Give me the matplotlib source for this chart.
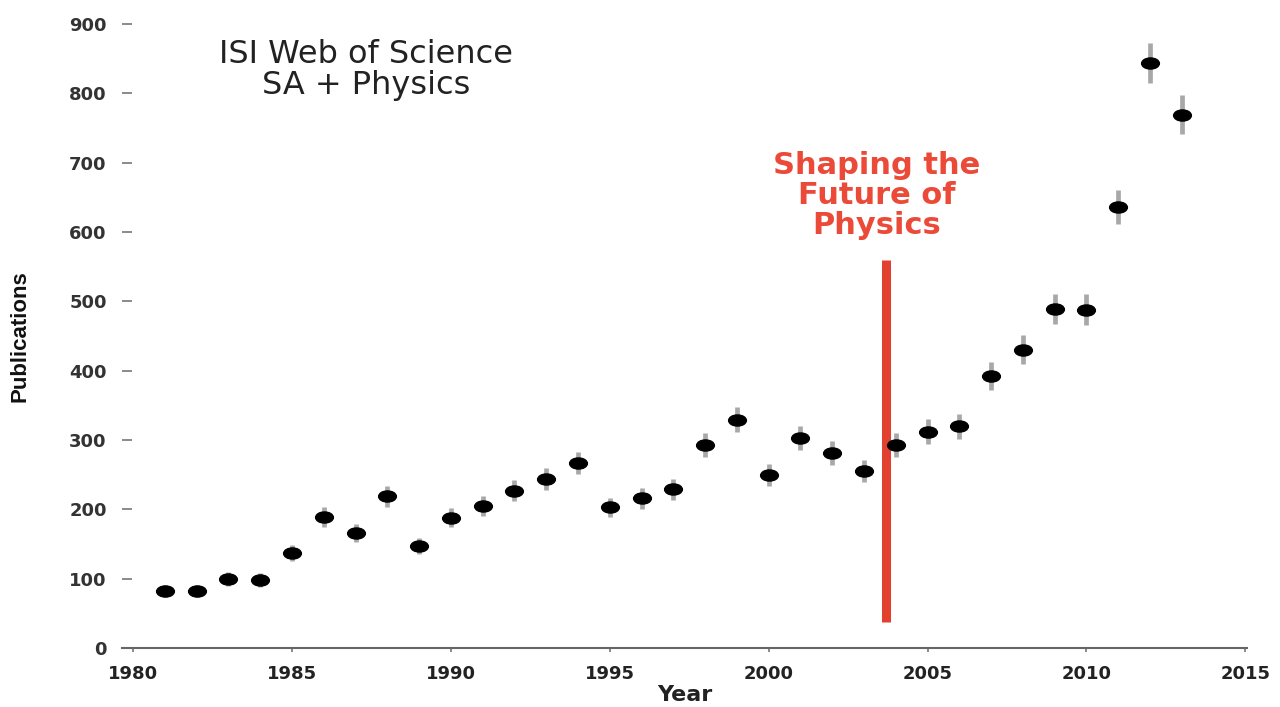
import matplotlib
matplotlib.use('Agg')
import matplotlib.pyplot as plt
from matplotlib.markers import MarkerStyle
from matplotlib.transforms import Affine2D

years = list(range(1981, 2014))
pubs = [82, 82, 100, 98, 137, 189, 166, 219, 147, 188,
        205, 227, 244, 267, 203, 216, 229, 293, 329, 250,
        303, 281, 255, 293, 312, 320, 392, 430, 489, 488,
        636, 844, 769]
errs = [9, 9, 10, 10, 12, 14, 13, 15, 12, 14,
        14, 15, 16, 16, 14, 15, 15, 17, 18, 16,
        17, 17, 16, 17, 18, 18, 20, 21, 22, 22,
        25, 29, 28]

event_year = 2003.7
event_lo, event_hi = 37, 560

fig = plt.figure(figsize=(12.8, 7.07), dpi=100)
ax = fig.add_axes([0.0953, 0.0835, 0.8789, 0.8825])

# grey error bars, black flattened dots
ax.errorbar(years, pubs, yerr=errs, fmt='none', ecolor='#a8a8a8',
            elinewidth=3.4, capsize=0, zorder=2)
dot = MarkerStyle('o', transform=Affine2D().scale(1.6, 1.0))
ax.plot(years, pubs, linestyle='none', marker=dot, markersize=8,
        color='black', zorder=3)

ax.plot([event_year, event_year], [event_lo, event_hi], color='#e2412f',
        linewidth=6.5, solid_capstyle='butt', zorder=1)
ax.text(2003.4, 653, 'Shaping the\nFuture of\nPhysics', color='#ec4a38',
        fontsize=22, fontweight='bold', ha='center', va='center',
        linespacing=1.05, family='DejaVu Sans')

ax.text(0.217, 0.926, 'ISI Web of Science\nSA + Physics', transform=ax.transAxes,
        fontsize=23, color='#222222', ha='center', va='center',
        linespacing=1.0, family='DejaVu Sans')

ax.set_xlim(1979.65, 2015.05)
ax.set_ylim(0, 900)
ax.set_xticks(range(1980, 2016, 5))
ax.set_yticks(range(0, 901, 100))

for s in ['top', 'right', 'left']:
    ax.spines[s].set_visible(False)
ax.spines['bottom'].set_color('#666666')
ax.spines['bottom'].set_linewidth(1.5)

ax.tick_params(axis='y', direction='in', length=7, width=1.2, color='#777777',
               pad=11, labelsize=13, labelcolor='#333333')
ax.tick_params(axis='x', direction='out', length=3, width=1.2, color='#777777',
               pad=9, labelsize=13, labelcolor='#222222')
for lab in ax.get_xticklabels() + ax.get_yticklabels():
    lab.set_fontweight('bold')
    lab.set_family('DejaVu Sans')

ax.set_xlabel('Year', fontsize=16, fontweight='bold', color='#222222',
              family='DejaVu Sans', labelpad=2)
ax.set_ylabel('Publications', fontsize=16, fontweight='bold', color='#111111',
              family='Liberation Sans', labelpad=28)

fig.savefig('out.png', dpi=100)
